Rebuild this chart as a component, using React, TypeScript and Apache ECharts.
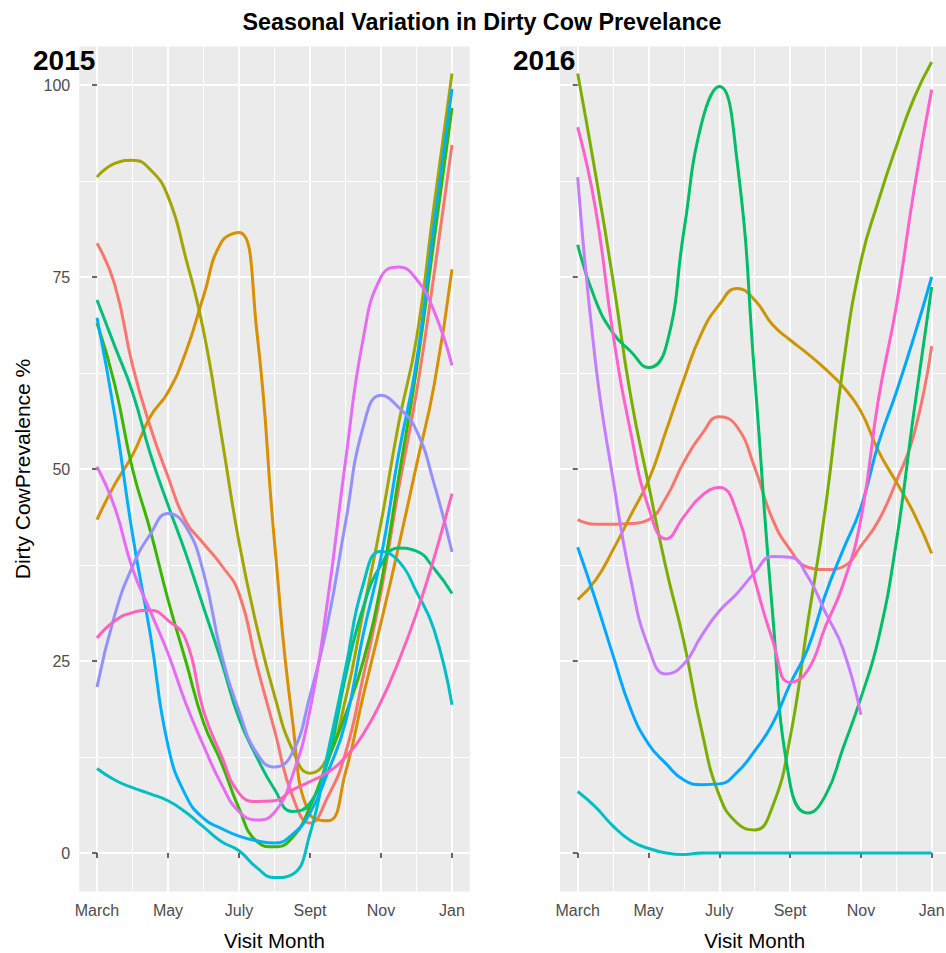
import React, { useEffect, useRef } from 'react';
import * as echarts from 'echarts';

const FONT = '"Liberation Sans", Arial, Helvetica, sans-serif';

// x positions: months after March (0 = March ... 10 = January)
const MONTHS = [0, 0.5, 1, 1.5, 2, 2.5, 3, 3.5, 4, 4.5, 5, 5.5, 6, 6.5, 7, 7.5, 8, 8.5, 9, 9.5, 10];
const X_TICKS = [0, 2, 4, 6, 8, 10];
const X_MINOR = [1, 3, 5, 7, 9];
const MONTH_LABELS = ['March', 'May', 'July', 'Sept', 'Nov', 'Jan'];
const Y_TICKS = [0, 25, 50, 75, 100];
const Y_MINOR = [12.5, 37.5, 62.5, 87.5];

// 2015 panel (10 groups)
const COLORS_2015 = ['#F8766D', '#D89000', '#A3A500', '#39B600', '#00BF7D', '#00BFC4', '#00B0F6', '#9590FF', '#E76BF3', '#FF62BC'];
const S15_1 = [79.4, 74, 63.5, 55.5, 49, 43.2, 40.3, 37.5, 33.8, 24.5, 16, 7.5, 3.9, 7.3, 13, 23, 34, 47.5, 60, 75.5, 92.2];
const S15_2 = [43.4, 48, 51.8, 56.8, 60, 65.2, 72.5, 79.5, 80.8, 68, 40.5, 17.5, 5, 4.2, 10.5, 20.5, 30, 40, 50.5, 61, 76];
const S15_3 = [88, 89.8, 90.2, 89, 85.5, 77.5, 68, 54.5, 40.5, 29.5, 20.5, 13.5, 10.4, 12.5, 20, 31.5, 43, 56, 67, 84.5, 101.5];
const S15_4 = [69, 61, 50, 42, 33, 25, 17, 11.8, 5.8, 1.5, 0.8, 2, 6, 12, 18, 25, 35, 49, 63, 80, 97];
const S15_5 = [72, 66, 60, 52, 45.3, 39, 32, 25, 17.5, 12.5, 8.3, 5.4, 6.5, 12, 23, 32, 37.5, 39.7, 39.3, 37, 33.8];
const S15_6 = [11, 9.5, 8.5, 7.7, 6.8, 5.3, 3.4, 1.5, 0.3, -1.9, -3.2, -2.8, 2.5, 13, 24, 35, 39.3, 38, 34, 29, 19.3];
const S15_7 = [69.7, 57, 41.5, 28.5, 14, 7.5, 4.5, 3.2, 2.2, 1.6, 1.3, 2.4, 5.2, 10.5, 17, 28.5, 38.5, 52, 64, 82, 99.5];
const S15_8 = [21.6, 31, 37.3, 41.5, 44.2, 42.5, 36.5, 26, 18.5, 13, 11.2, 13, 20.5, 30, 43, 55.5, 59.6, 58, 55, 48, 39.2];
const S15_9 = [50.3, 45, 37, 31.5, 26, 19.5, 14, 9, 5.4, 4.3, 5.3, 10, 18.6, 33, 51, 67, 75, 76.3, 74.7, 70.5, 63.5];
const S15_10 = [28, 30.2, 31.3, 31.6, 30.3, 27.8, 18.5, 12.7, 7.8, 6.7, 6.8, 8.2, 9.3, 10.5, 12.5, 15.5, 19.7, 25, 31.2, 38.5, 46.8];

// 2016 panel (8 groups)
const COLORS_2016 = ['#F8766D', '#CD9600', '#7CAE00', '#00BE67', '#00BFC4', '#00A9FF', '#C77CFF', '#FF61CC'];
const S16_1 = [43.4, 42.8, 42.8, 42.9, 43.4, 46.3, 50.9, 54.5, 56.8, 55.5, 50.2, 43.5, 39.5, 37.2, 36.9, 37.3, 40, 43.3, 48.4, 54.5, 66];
const S16_2 = [33, 35.5, 39.5, 44, 48.5, 55, 61.7, 67.7, 71.4, 73.5, 72, 68.8, 66.8, 65, 63, 60.7, 57.5, 52.3, 48.3, 44.2, 39];
const S16_3 = [101.5, 88.5, 74.5, 59.4, 48, 37, 27.5, 16, 7.5, 3.9, 3, 6, 15, 30, 45, 63.5, 77, 85, 92, 98.3, 103];
const S16_4 = [79.2, 72, 67.7, 65.3, 63.2, 66, 81, 95, 99.8, 90.2, 62, 31.5, 9, 5.2, 7.5, 13.7, 20.2, 28, 40.5, 57.5, 73.7];
const S16_5 = [8, 6, 3.5, 1.6, 0.6, 0, -0.2, 0, 0, 0, 0, 0, 0, 0, 0, 0, 0, 0, 0, 0, 0];
const S16_6 = [39.8, 33, 25.7, 18.7, 14.2, 11.6, 9.5, 8.9, 9, 10.5, 13.3, 16.8, 22, 26.6, 33.7, 39.5, 45, 53.4, 60, 67.2, 75];
const S16_7 = [88, 64, 48.6, 35.6, 26.8, 23.3, 24.6, 28.3, 31.5, 33.8, 36.5, 38.6, 38.5, 36, 31.3, 26.5, 18];
const S16_8 = [94.5, 84, 67.5, 54.7, 45, 40.9, 43.8, 46.5, 47.6, 44.3, 35.6, 27.8, 22.2, 23.8, 29.5, 35, 43.5, 59.2, 71.2, 86.3, 99.4];

const SERIES_2015 = [S15_1, S15_2, S15_3, S15_4, S15_5, S15_6, S15_7, S15_8, S15_9, S15_10];
const SERIES_2016 = [S16_1, S16_2, S16_3, S16_4, S16_5, S16_6, S16_7, S16_8];

const GRID_TOP = 46.6;
const GRID_H = 844.8;

function xMajor(gridIndex: number) {
  return {
    type: 'value', gridIndex, min: -0.5, max: 10.5, position: 'bottom',
    axisLine: { show: false },
    axisTick: { show: true, length: 5, customValues: X_TICKS, lineStyle: { color: '#333333', width: 1.5 } },
    axisLabel: {
      show: true, customValues: X_TICKS, margin: 11, color: '#4D4D4D', fontSize: 16, fontFamily: FONT,
      formatter: (v: number) => MONTH_LABELS[X_TICKS.indexOf(v)] ?? '',
    },
    splitLine: { show: true, lineStyle: { color: '#FFFFFF', width: 2 } },
  };
}
function xMinor(gridIndex: number) {
  return {
    type: 'value', gridIndex, min: -0.5, max: 10.5, position: 'top',
    axisLine: { show: false },
    axisTick: { show: false, customValues: X_MINOR },
    axisLabel: { show: false, customValues: X_MINOR },
    splitLine: { show: true, lineStyle: { color: '#FFFFFF', width: 1 } },
  };
}
function yMajor(gridIndex: number, labels: boolean) {
  return {
    type: 'value', gridIndex, min: -5, max: 105, position: 'left',
    axisLine: { show: false },
    axisTick: { show: true, length: 5, customValues: Y_TICKS, lineStyle: { color: '#333333', width: 1.5 } },
    axisLabel: { show: labels, customValues: Y_TICKS, margin: 9, color: '#4D4D4D', fontSize: 16, fontFamily: FONT },
    splitLine: { show: true, lineStyle: { color: '#FFFFFF', width: 2 } },
  };
}
function yMinor(gridIndex: number) {
  return {
    type: 'value', gridIndex, min: -5, max: 105, position: 'right',
    axisLine: { show: false },
    axisTick: { show: false, customValues: Y_MINOR },
    axisLabel: { show: false, customValues: Y_MINOR },
    splitLine: { show: true, lineStyle: { color: '#FFFFFF', width: 1 } },
  };
}

function makeSeries(list: number[][], colors: string[], axisIndex: number, year: string) {
  return list.map((vals, k) => ({
    type: 'line',
    name: year + '-' + (k + 1),
    xAxisIndex: axisIndex,
    yAxisIndex: axisIndex,
    data: vals.map((v, i) => [MONTHS[i], v]),
    smooth: 0.5,
    showSymbol: false,
    symbol: 'none',
    silent: true,
    lineStyle: { color: colors[k], width: 3 },
    itemStyle: { color: colors[k] },
    z: 2 + k * 0.01,
  }));
}

const option: any = {
  animation: false,
  backgroundColor: '#FFFFFF',
  textStyle: { fontFamily: FONT },
  grid: [
    { left: 79.25, top: GRID_TOP, width: 390.5, height: GRID_H, show: true, backgroundColor: '#EBEBEB', borderWidth: 0, containLabel: false, outerBoundsMode: 'none' },
    { left: 560, top: GRID_TOP, width: 389.4, height: GRID_H, show: true, backgroundColor: '#EBEBEB', borderWidth: 0, containLabel: false, outerBoundsMode: 'none' },
  ],
  xAxis: [xMajor(0), xMinor(0), xMajor(1), xMinor(1)],
  yAxis: [yMajor(0, true), yMinor(0), yMajor(1, false), yMinor(1)],
  series: [
    ...makeSeries(SERIES_2015, COLORS_2015, 0, '2015'),
    ...makeSeries(SERIES_2016, COLORS_2016, 2, '2016'),
  ],
  graphic: [
    { type: 'text', x: 482, y: 22, style: { text: 'Seasonal Variation in Dirty Cow Prevelance', fill: '#000000', font: 'bold 23.3px ' + FONT, align: 'center', verticalAlign: 'middle' } },
    { type: 'text', x: 33, y: 60, style: { text: '2015', fill: '#000000', font: 'bold 28px ' + FONT, align: 'left', verticalAlign: 'middle' } },
    { type: 'text', x: 513, y: 60, style: { text: '2016', fill: '#000000', font: 'bold 28px ' + FONT, align: 'left', verticalAlign: 'middle' } },
    { type: 'text', x: 22, y: 469, rotation: Math.PI / 2, style: { text: 'Dirty CowPrevalence %', fill: '#000000', font: '21px ' + FONT, align: 'center', verticalAlign: 'middle' } },
    { type: 'text', x: 274.5, y: 940, style: { text: 'Visit Month', fill: '#000000', font: '20.5px ' + FONT, align: 'center', verticalAlign: 'middle' } },
    { type: 'text', x: 754.7, y: 940, style: { text: 'Visit Month', fill: '#000000', font: '20.5px ' + FONT, align: 'center', verticalAlign: 'middle' } },
  ],
};

export default function App() {
  const ref = useRef<HTMLDivElement>(null);
  useEffect(() => {
    const chart = echarts.init(ref.current as HTMLDivElement, null, { renderer: 'svg', width: 946, height: 953 });
    chart.setOption(option);
    return () => chart.dispose();
  }, []);
  return (
    <div
      ref={ref}
      style={{ position: 'fixed', left: 0, top: 0, width: 946, height: 953, background: '#FFFFFF', overflow: 'hidden' }}
    />
  );
}
